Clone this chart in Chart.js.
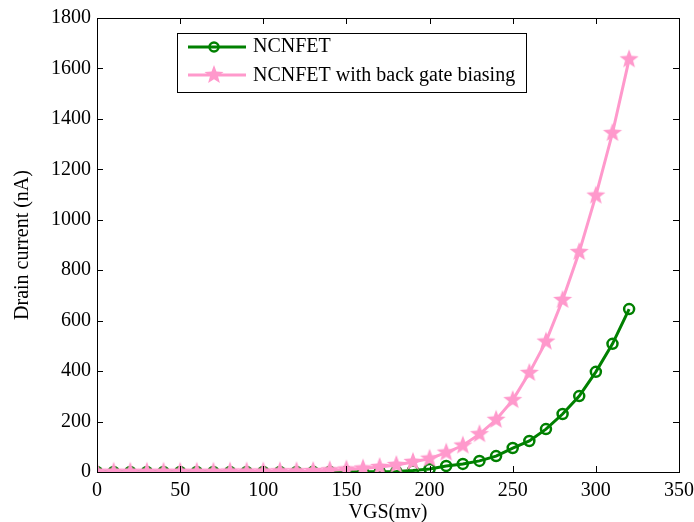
<!DOCTYPE html>
<html>
<head>
<meta charset="utf-8">
<script src="https://cdn.jsdelivr.net/npm/chart.js@4.4.1/dist/chart.umd.min.js"></script>
<style>
html,body{margin:0;padding:0;background:#fff;}
#wrap{width:694px;height:522px;}
</style>
</head>
<body>
<div id="wrap"><canvas id="c" width="694" height="522"></canvas></div>
<script>
const vgs = [0,10,20,30,40,50,60,70,80,90,100,110,120,130,140,150,160,170,180,190,200,210,220,230,240,250,260,270,280,290,300,310,320];
const ncnfet = [0,0,0,0,0,0,0,0,0,0,0,0,0,0.5,0.5,0.5,1,1,2,6,12,24,32,44,63,95,123,170,230,301,397,508,646];
const ncnfetBackGate = [1,1,1,1,1,1,1,1,2,2,2,3,3,4,7,10,14,20,28,40,53,77,105,150,207,285,393,517,682,872,1096,1344,1636];
const xTicks = [0,50,100,150,200,250,300,350];
const yTicks = [0,200,400,600,800,1000,1200,1400,1600,1800];
const seriesNames = ['NCNFET','NCNFET with back gate biasing'];

const GREEN = '#008000';
const PINK = '#FF99CC';
const FONT = '"Liberation Serif", "Times New Roman", serif';
const FS = 20;

function makeStar(r, color){
  const s = Math.ceil(r*2+2);
  const cv = document.createElement('canvas');
  cv.width = s; cv.height = s;
  const g = cv.getContext('2d');
  const cx = s/2, cy = s/2, ri = r*0.42;
  g.beginPath();
  for(let i=0;i<10;i++){
    const rr = i%2===0 ? r : ri;
    const a = -Math.PI/2 + i*Math.PI/5;
    const x = cx + rr*Math.cos(a), y = cy + rr*Math.sin(a);
    if(i===0) g.moveTo(x,y); else g.lineTo(x,y);
  }
  g.closePath();
  g.fillStyle = color; g.fill();
  return cv;
}
const starImg = makeStar(10, PINK);

const boxPlugin = {
  id:'boxPlugin',
  afterDatasetsDraw(chart){
    const ctx = chart.ctx, a = chart.chartArea;
    const xs = chart.scales.x, ys = chart.scales.y;
    ctx.save();
    ctx.strokeStyle = '#000'; ctx.lineWidth = 1;
    ctx.strokeRect(Math.round(a.left)+0.5, Math.round(a.top)+0.5, Math.round(a.right-a.left), Math.round(a.bottom-a.top));
    ctx.beginPath();
    const L = 6;
    xTicks.forEach(v=>{
      const px = Math.round(xs.getPixelForValue(v))+0.5;
      ctx.moveTo(px, a.bottom); ctx.lineTo(px, a.bottom-L);
      ctx.moveTo(px, a.top); ctx.lineTo(px, a.top+L);
    });
    yTicks.forEach(v=>{
      const py = Math.round(ys.getPixelForValue(v))+0.5;
      ctx.moveTo(a.left, py); ctx.lineTo(a.left+L, py);
      ctx.moveTo(a.right, py); ctx.lineTo(a.right-L, py);
    });
    ctx.stroke();
    ctx.restore();
  },
  afterDraw(chart){
    const ctx = chart.ctx;
    ctx.save();
    const bx=177, by=33, bw=349, bh=59;
    ctx.fillStyle='#fff';
    ctx.fillRect(bx,by,bw,bh);
    ctx.strokeStyle='#000'; ctx.lineWidth=1;
    ctx.strokeRect(bx+0.5,by+0.5,bw,bh);
    ctx.strokeStyle=GREEN; ctx.lineWidth=3;
    ctx.beginPath(); ctx.moveTo(188,47); ctx.lineTo(246,47); ctx.stroke();
    ctx.lineWidth=2.5;
    ctx.beginPath(); ctx.arc(214,47,4.5,0,Math.PI*2); ctx.stroke();
    ctx.strokeStyle=PINK; ctx.lineWidth=3;
    ctx.beginPath(); ctx.moveTo(188,75); ctx.lineTo(246,75); ctx.stroke();
    ctx.drawImage(starImg, 214-starImg.width/2, 75-starImg.height/2);
    ctx.fillStyle='#000';
    ctx.font=FS+'px '+FONT;
    ctx.textBaseline='middle'; ctx.textAlign='left';
    ctx.fillText(seriesNames[0],253,47);
    ctx.fillText(seriesNames[1],253,76);
    ctx.restore();
  }
};

new Chart(document.getElementById('c'),{
  type:'line',
  data:{
    datasets:[
      {label:seriesNames[0], data:vgs.map((x,i)=>({x:x,y:ncnfet[i]})), borderColor:GREEN, backgroundColor:'rgba(0,0,0,0)',
       borderWidth:3, pointStyle:'circle', pointRadius:5, pointBorderWidth:2.5, pointBorderColor:GREEN,
       pointBackgroundColor:'rgba(0,0,0,0)', tension:0, order:2},
      {label:seriesNames[1], data:vgs.map((x,i)=>({x:x,y:ncnfetBackGate[i]})), borderColor:PINK, backgroundColor:PINK,
       borderWidth:3, pointStyle:starImg, pointRadius:10, tension:0, order:1}
    ]
  },
  options:{
    responsive:false, animation:false, devicePixelRatio:1,
    layout:{padding:{top:18,right:15,left:0,bottom:0}},
    plugins:{legend:{display:false}, tooltip:{enabled:false}},
    scales:{
      x:{type:'linear', min:0, max:350,
         afterBuildTicks(s){ s.ticks = xTicks.map(v=>({value:v})); },
         afterFit(s){ s.height = 50; s.paddingLeft = 0; s.paddingRight = 0; },
         grid:{display:false, drawTicks:false},
         border:{display:false},
         ticks:{color:'#000', font:{family:FONT,size:FS}, padding:7, maxRotation:0, callback:(v)=>String(v)},
         title:{display:true, text:'VGS(mv)', color:'#000', font:{family:FONT,size:FS}, padding:{top:0,bottom:-3}}
      },
      y:{type:'linear', min:0, max:1800,
         afterBuildTicks(s){ s.ticks = yTicks.map(v=>({value:v})); },
         afterFit(s){ s.width = 97; s.paddingTop = 0; s.paddingBottom = 0; },
         grid:{display:false, drawTicks:false},
         border:{display:false},
         ticks:{color:'#000', font:{family:FONT,size:FS}, padding:6, callback:(v)=>String(v)},
         title:{display:true, text:'Drain current (nA)', color:'#000', font:{family:FONT,size:FS}, padding:{top:11,bottom:0}}
      }
    }
  },
  plugins:[boxPlugin]
});
</script>
</body>
</html>
